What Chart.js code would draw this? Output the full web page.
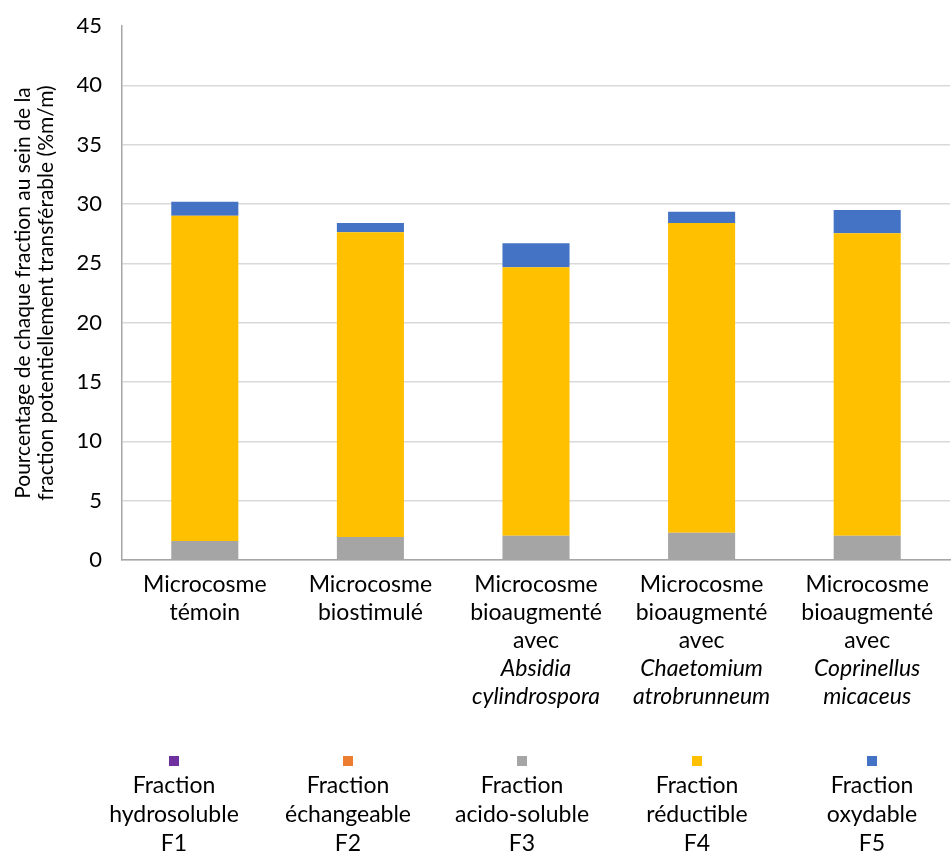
<!DOCTYPE html>
<html>
<head>
<meta charset="utf-8">
<script src="https://cdn.jsdelivr.net/npm/chart.js@4"></script>
<style>
  html, body { margin: 0; padding: 0; background: #fff; }
  #wrap { width: 952px; height: 852px; }
</style>
</head>
<body>
<div id="wrap"><canvas id="myChart"></canvas></div>
<script>
// categories (each line: [text, italic])
const categories = [
  [['Microcosme', false], ['témoin', false]],
  [['Microcosme', false], ['biostimulé', false]],
  [['Microcosme', false], ['bioaugmenté', false], ['avec', false], ['Absidia', true], ['cylindrospora', true]],
  [['Microcosme', false], ['bioaugmenté', false], ['avec', false], ['Chaetomium', true], ['atrobrunneum', true]],
  [['Microcosme', false], ['bioaugmenté', false], ['avec', false], ['Coprinellus', true], ['micaceus', true]]
];

// series values (% m/m)
const f1 = [0, 0, 0, 0, 0];
const f2 = [0, 0, 0, 0, 0];
const f3 = [1.6, 1.94, 2.05, 2.3, 2.05];
const f4 = [27.42, 25.67, 22.61, 26.1, 25.48];
const f5 = [1.18, 0.79, 2.03, 0.95, 1.96];

const seriesNames = [
  ['Fraction', 'hydrosoluble', 'F1'],
  ['Fraction', 'échangeable', 'F2'],
  ['Fraction', 'acido-soluble', 'F3'],
  ['Fraction', 'réductible', 'F4'],
  ['Fraction', 'oxydable', 'F5']
];
const colors = ['#7030A0', '#ED7D31', '#A5A5A5', '#FFC000', '#4472C4'];

const FONT = 'Lato, "Open Sans", sans-serif';
const textColor = '#000000';

// draws the multi-line category labels (some lines in italic)
const catLabels = {
  id: 'catLabels',
  afterDraw(chart) {
    const ctx = chart.ctx;
    const xs = chart.scales.x;
    ctx.save();
    ctx.fillStyle = textColor;
    ctx.textAlign = 'center';
    ctx.textBaseline = 'middle';
    categories.forEach((lines, i) => {
      const x = xs.getPixelForValue(i);
      lines.forEach((ln, j) => {
        ctx.font = (ln[1] ? 'italic ' : '') + '23px ' + FONT;
        ctx.fillText(ln[0], x, 585 + j * 28);
      });
    });
    ctx.restore();
  }
};

// custom legend: marker above three lines of text
const bottomLegend = {
  id: 'bottomLegend',
  afterDraw(chart) {
    const ctx = chart.ctx;
    const xsCenters = [174, 348, 522, 697, 872];
    ctx.save();
    ctx.textAlign = 'center';
    ctx.textBaseline = 'middle';
    chart.data.datasets.forEach((ds, i) => {
      const x = xsCenters[i];
      ctx.fillStyle = ds.backgroundColor;
      ctx.fillRect(x - 5, 756, 10, 10);
      ctx.fillStyle = textColor;
      ctx.font = '23px ' + FONT;
      seriesNames[i].forEach((t, j) => {
        ctx.fillText(t, x, 786 + j * 29);
      });
    });
    ctx.restore();
  }
};

const ctx = document.getElementById('myChart');
const allSeries = [f1, f2, f3, f4, f5];

new Chart(ctx, {
  type: 'bar',
  data: {
    labels: categories.map(c => c.map(l => l[0]).join(' ')),
    datasets: allSeries.map((d, i) => ({
      label: seriesNames[i].join(' '),
      data: d,
      backgroundColor: colors[i],
      borderWidth: 0,
      barPercentage: 0.405,
      categoryPercentage: 1
    }))
  },
  options: {
    responsive: true,
    maintainAspectRatio: false,
    animation: false,
    layout: { padding: { top: 26, right: 2, left: 12, bottom: 142 } },
    plugins: {
      legend: { display: false },
      tooltip: { enabled: false }
    },
    scales: {
      x: {
        stacked: true,
        grid: { display: false },
        border: { color: '#a6a6a6', width: 1.5 },
        ticks: { display: false },
        afterFit(scale) { scale.height = 150; }
      },
      y: {
        stacked: true,
        min: 0,
        max: 45,
        ticks: {
          stepSize: 5,
          color: textColor,
          font: { family: FONT, size: 22 },
          padding: 20
        },
        grid: {
          color: c => (c.tick && c.tick.value === 45 ? 'rgba(0,0,0,0)' : '#d9d9d9'),
          lineWidth: 1.5,
          drawTicks: false
        },
        border: { color: '#a6a6a6', width: 1.5 },
        title: {
          display: true,
          text: ['Pourcentage de chaque fraction au sein de la', 'fraction potentiellement transférable (%m/m)'],
          color: textColor,
          font: { family: FONT, size: 21, lineHeight: 1.1 },
          padding: { top: 0, bottom: 8 }
        },
        afterFit(scale) {
          scale.width = 110;
          scale.paddingTop = 0;
          scale.paddingBottom = 0;
        }
      }
    }
  },
  plugins: [catLabels, bottomLegend]
});
</script>
</body>
</html>
